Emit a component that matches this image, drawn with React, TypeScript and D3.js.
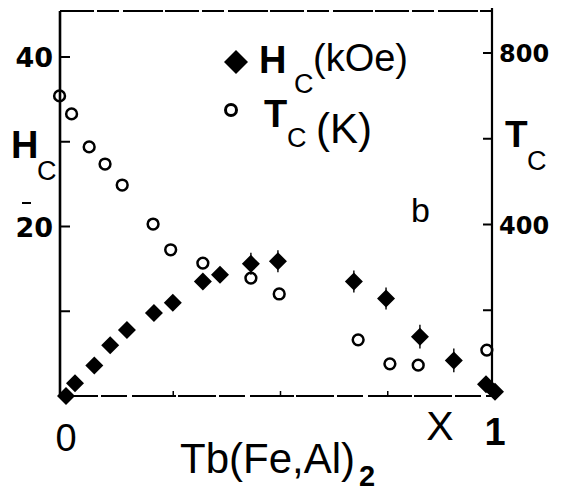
import React from "react";
import * as d3 from "d3";

// Composition x of Tb(Fe1-xAlx)2
const hcX = [0, 0.021, 0.066, 0.103, 0.142, 0.205, 0.249, 0.319, 0.359, 0.431, 0.494, 0.671, 0.746, 0.825, 0.904, 0.979, 1.0];
// Coercive field Hc (kOe)
const hcVal = [0, 1.5, 3.6, 6.0, 7.8, 9.8, 11.0, 13.5, 14.3, 15.6, 15.9, 13.5, 11.5, 7.0, 4.2, 1.4, 0.5];
// Hc uncertainty (kOe)
const hcErr = [0, 0, 0, 0, 0, 0, 0, 0, 0, 1.3, 1.3, 1.3, 1.3, 1.4, 1.4, 0, 0];

const tcX = [-0.015, 0.013, 0.054, 0.091, 0.131, 0.203, 0.244, 0.319, 0.431, 0.497, 0.681, 0.755, 0.821, 0.981];
// Curie temperature Tc (K)
const tcVal = [700, 658, 581, 541, 492, 401, 341, 310, 275, 238, 131, 75, 72, 107];

const hcTicks = [10, 20, 30, 40];
const hcTickLabels = [20, 40];
const tcTicks = [200, 400, 600, 800];
const tcTickLabels = [400, 800];
const xTicks = [0.25, 0.5, 0.75];

const W = 561;
const H = 492;
const FONT = "'Liberation Sans', Arial, Helvetica, sans-serif";
const NUM_FONT = "'DejaVu Sans', 'Liberation Sans', sans-serif";

export default function App() {
  const x = d3.scaleLinear().domain([0, 1]).range([66, 495]);
  const yH = d3.scaleLinear().domain([0, 40]).range([396, 57]);
  const yT = d3.scaleLinear().domain([0, 800]).range([396, 53]);

  const left = 60;
  const right = 492;
  const top = 11;
  const bottom = 396;

  const diamond = (cx: number, cy: number, r: number) =>
    `M${cx},${cy - r}L${cx + r},${cy}L${cx},${cy + r}L${cx - r},${cy}Z`;

  const hcPts = hcX.map((v, i) => [x(v), yH(hcVal[i])]);
  const tcPts = tcX.map((v, i) => [x(v), yT(tcVal[i])]);

  return (
    <svg width={W} height={H} viewBox={`0 0 ${W} ${H}`} style={{ display: "block", position: "absolute", left: 0, top: 0, background: "#fff" }}>
      <rect width={W} height={H} fill="#fff" />
      {/* frame */}
      <g stroke="#000" fill="none">
        <line x1={left} y1={top} x2={right} y2={top} strokeWidth={1.8} strokeDasharray="34 3 22 4 40 2" />
        <line x1={left} y1={top} x2={left} y2={bottom} strokeWidth={2.6} />
        <line x1={right} y1={top - 3} x2={right} y2={bottom - 6} strokeWidth={2.2} />
        <line x1={left} y1={bottom} x2={right} y2={bottom} strokeWidth={2} strokeDasharray="38 3 26 5 44 2" />
        {hcTicks.map((t) => (
          <line key={"lh" + t} x1={left} x2={left + 10} y1={yH(t)} y2={yH(t)} strokeWidth={2} />
        ))}
        {tcTicks.map((t) => (
          <line key={"rt" + t} x1={right - 9} x2={right} y1={yT(t)} y2={yT(t)} strokeWidth={2} />
        ))}
        {xTicks.map((t) => (
          <line key={"xt" + t} x1={x(t)} x2={x(t)} y1={bottom} y2={bottom - 5} strokeWidth={1.5} />
        ))}
        <line x1={22} x2={31} y1={203} y2={203} strokeWidth={2} />
      </g>

      {/* Tc open circles */}
      <g fill="none" stroke="#000" strokeWidth={2.5}>
        {tcPts.map(([cx, cy], i) => (
          <circle key={"tc" + i} cx={cx} cy={cy} r={5.4} />
        ))}
      </g>
      {/* Hc filled diamonds with error bars */}
      <g stroke="#000" strokeWidth={1.4}>
        {hcX.map((v, i) =>
          hcErr[i] > 0 ? (
            <line key={"eb" + i} x1={x(v)} x2={x(v)} y1={yH(hcVal[i] + hcErr[i])} y2={yH(hcVal[i] - hcErr[i])} />
          ) : null
        )}
      </g>
      <g fill="#000">
        {hcPts.map(([cx, cy], i) => (
          <path key={"hc" + i} d={diamond(cx, cy, 9)} />
        ))}
      </g>

      <g fontFamily={FONT} fill="#000">
        {/* left axis */}
        {hcTickLabels.map((t) => (
          <text key={"lhl" + t} x={53} y={yH(t) + 10} fontFamily={NUM_FONT} fontSize={27} fontWeight="bold" textAnchor="end">
            {t}
          </text>
        ))}
        <text x={11} y={158} fontSize={38} fontWeight="bold">H</text>
        <text x={37} y={180} fontSize={27}>C</text>

        {/* right axis */}
        {tcTickLabels.map((t) => (
          <text key={"rtl" + t} x={499} y={yT(t) + 9} fontFamily={NUM_FONT} fontSize={24} fontWeight="bold">
            {t}
          </text>
        ))}
        <text x={505} y={147} fontSize={37} fontWeight="bold">T</text>
        <text x={527} y={170} fontSize={27}>C</text>

        {/* legend */}
        <path d={diamond(236, 62, 12)} />
        <text x={259} y={73} fontSize={38} fontWeight="bold">H</text>
        <text x={294} y={93} fontSize={27}>C</text>
        <text x={313} y={71} fontSize={38}>(kOe)</text>
        <circle cx={231} cy={110} r={5.5} fill="none" stroke="#000" strokeWidth={3} />
        <text x={264} y={127} fontSize={38} fontWeight="bold">T</text>
        <text x={287} y={147} fontSize={27}>C</text>
        <text x={316} y={143} fontSize={42}>(K)</text>

        <text x={411} y={222} fontSize={34}>b</text>

        {/* x axis */}
        <text x={x(0)} y={451} fontSize={38} textAnchor="middle">0</text>
        <text x={x(1)} y={445} fontSize={38} fontWeight="bold" textAnchor="middle">1</text>
        <text x={440} y={440} fontSize={41} textAnchor="middle">X</text>
        <text x={180} y={473} fontSize={42}>Tb(Fe,Al)</text>
        <text x={359} y={486} fontSize={29} fontWeight="bold">2</text>
      </g>
    </svg>
  );
}
